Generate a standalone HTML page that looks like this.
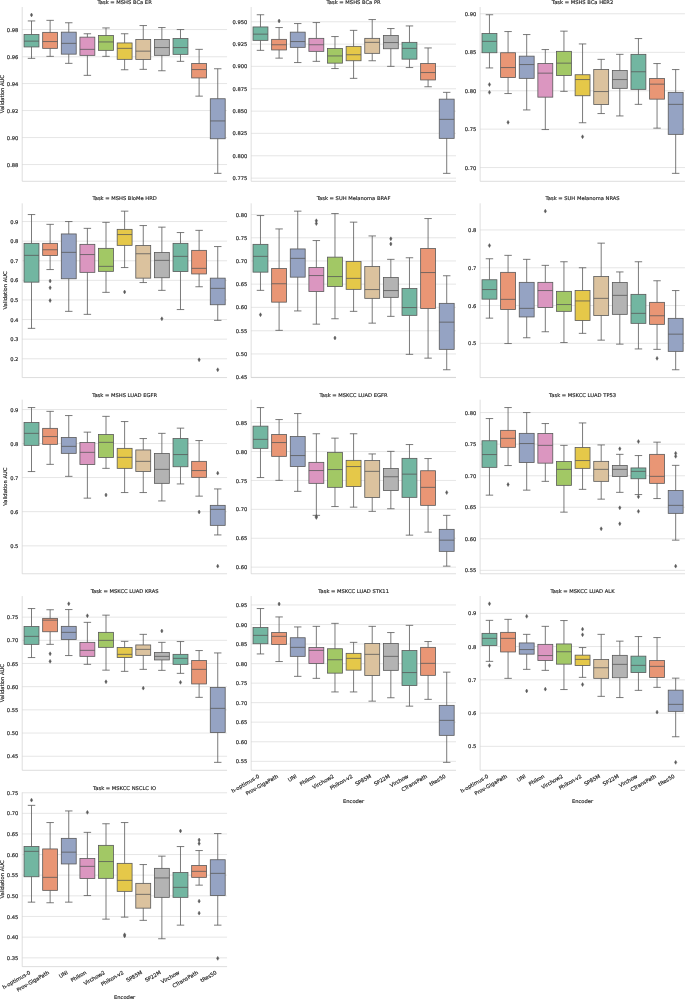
<!DOCTYPE html>
<html lang="en"><head><meta charset="utf-8"><title>Validation AUC by Encoder</title>
<style>html,body{margin:0;padding:0;background:#fff}body{width:685px;height:999px;overflow:hidden}svg{display:block}</style>
</head><body>
<svg width="685" height="999" viewBox="0 0 685 999" font-family="DejaVu Sans, Liberation Sans, sans-serif" font-size="5.2" fill="#262626" stroke="#262626" stroke-width="0.17">
<rect width="685" height="999" fill="#fff" stroke="none"/>
<g>
<path d="M22.2 29.55H227.05M22.2 56.75H227.05M22.2 83.55H227.05M22.2 110.55H227.05M22.2 137.55H227.05M22.2 164.55H227.05" stroke="#cccccc" stroke-width="0.5" fill="none"/>
<rect x="24.06" y="34.55" width="14.9" height="12.4" fill="#72b6a1" stroke="#595959" stroke-width="0.8"/>
<path d="M31.51 20.95V34.55M31.51 46.95V58.35M27.79 20.95H35.24M27.79 58.35H35.24M24.06 41.15H38.96" stroke="#595959" stroke-width="0.8" fill="none"/>
<path d="M31.51 13L32.66 14.95L31.51 16.9L30.36 14.95Z" fill="#595959" stroke="#595959" stroke-width="0.5"/>
<rect x="42.68" y="32.35" width="14.9" height="16" fill="#e99675" stroke="#595959" stroke-width="0.8"/>
<path d="M50.13 20.35V32.35M50.13 48.35V56.35M46.41 20.35H53.86M46.41 56.35H53.86M42.68 41.55H57.58" stroke="#595959" stroke-width="0.8" fill="none"/>
<rect x="61.31" y="32.15" width="14.9" height="22" fill="#95a3c3" stroke="#595959" stroke-width="0.8"/>
<path d="M68.76 22.75V32.15M68.76 54.15V63.35M65.03 22.75H72.48M65.03 63.35H72.48M61.31 43.35H76.21" stroke="#595959" stroke-width="0.8" fill="none"/>
<rect x="79.93" y="37.15" width="14.9" height="18.2" fill="#db96c0" stroke="#595959" stroke-width="0.8"/>
<path d="M87.38 33.75V37.15M87.38 55.35V75.35M83.66 33.75H91.1M83.66 75.35H91.1M79.93 49.35H94.83" stroke="#595959" stroke-width="0.8" fill="none"/>
<rect x="98.55" y="35.55" width="14.9" height="14.8" fill="#a2c865" stroke="#595959" stroke-width="0.8"/>
<path d="M106 27.95V35.55M106 50.35V56.35M102.28 27.95H109.73M102.28 56.35H109.73M98.55 41.95H113.45" stroke="#595959" stroke-width="0.8" fill="none"/>
<rect x="117.18" y="42.95" width="14.9" height="16.4" fill="#e5c849" stroke="#595959" stroke-width="0.8"/>
<path d="M124.62 33.75V42.95M124.62 59.35V69.75M120.9 33.75H128.35M120.9 69.75H128.35M117.18 48.35H132.07" stroke="#595959" stroke-width="0.8" fill="none"/>
<rect x="135.8" y="39.55" width="14.9" height="20" fill="#dbc29e" stroke="#595959" stroke-width="0.8"/>
<path d="M143.25 25.55V39.55M143.25 59.55V69.35M139.52 25.55H146.97M139.52 69.35H146.97M135.8 51.15H150.7" stroke="#595959" stroke-width="0.8" fill="none"/>
<rect x="154.42" y="39.55" width="14.9" height="15.8" fill="#b3b3b3" stroke="#595959" stroke-width="0.8"/>
<path d="M161.87 27.55V39.55M161.87 55.35V70.75M158.15 27.55H165.59M158.15 70.75H165.59M154.42 47.55H169.32" stroke="#595959" stroke-width="0.8" fill="none"/>
<rect x="173.04" y="38.55" width="14.9" height="15.8" fill="#72b6a1" stroke="#595959" stroke-width="0.8"/>
<path d="M180.49 29.55V38.55M180.49 54.35V61.35M176.77 29.55H184.22M176.77 61.35H184.22M173.04 47.55H187.94" stroke="#595959" stroke-width="0.8" fill="none"/>
<rect x="191.67" y="63.55" width="14.9" height="14.4" fill="#e99675" stroke="#595959" stroke-width="0.8"/>
<path d="M199.12 49.35V63.55M199.12 77.95V96.15M195.39 49.35H202.84M195.39 96.15H202.84M191.67 69.55H206.56" stroke="#595959" stroke-width="0.8" fill="none"/>
<rect x="210.29" y="98.75" width="14.9" height="40" fill="#95a3c3" stroke="#595959" stroke-width="0.8"/>
<path d="M217.74 68.75V98.75M217.74 138.75V173.35M214.01 68.75H221.46M214.01 173.35H221.46M210.29 120.95H225.19" stroke="#595959" stroke-width="0.8" fill="none"/>
<path d="M22.2 7V181.3H227.05" stroke="#cccccc" stroke-width="0.65" fill="none"/>
<text x="18.4" y="31.6" text-anchor="end">0.98</text>
<text x="18.4" y="58.8" text-anchor="end">0.96</text>
<text x="18.4" y="85.6" text-anchor="end">0.94</text>
<text x="18.4" y="112.6" text-anchor="end">0.92</text>
<text x="18.4" y="139.6" text-anchor="end">0.90</text>
<text x="18.4" y="166.6" text-anchor="end">0.88</text>
<text x="124.62" y="4.1" text-anchor="middle">Task = MSHS BCa ER</text>
<text transform="translate(3.62 94.15) rotate(-90)" text-anchor="middle">Validation AUC</text>
</g>
<g>
<path d="M251.17 21.75H456.02M251.17 44.15H456.02M251.17 66.35H456.02M251.17 88.75H456.02M251.17 111.15H456.02M251.17 133.35H456.02M251.17 155.75H456.02M251.17 178.15H456.02" stroke="#cccccc" stroke-width="0.5" fill="none"/>
<rect x="253.03" y="26.95" width="14.9" height="13.4" fill="#72b6a1" stroke="#595959" stroke-width="0.8"/>
<path d="M260.48 14.75V26.95M260.48 40.35V50.35M256.76 14.75H264.21M256.76 50.35H264.21M253.03 34.15H267.93" stroke="#595959" stroke-width="0.8" fill="none"/>
<rect x="271.65" y="39.35" width="14.9" height="10.6" fill="#e99675" stroke="#595959" stroke-width="0.8"/>
<path d="M279.1 27.55V39.35M279.1 49.95V58.15M275.38 27.55H282.83M275.38 58.15H282.83M271.65 44.75H286.55" stroke="#595959" stroke-width="0.8" fill="none"/>
<path d="M279.1 19L280.25 20.95L279.1 22.9L277.95 20.95Z" fill="#595959" stroke="#595959" stroke-width="0.5"/>
<rect x="290.28" y="32.15" width="14.9" height="15.2" fill="#95a3c3" stroke="#595959" stroke-width="0.8"/>
<path d="M297.73 23.55V32.15M297.73 47.35V62.55M294 23.55H301.45M294 62.55H301.45M290.28 41.55H305.18" stroke="#595959" stroke-width="0.8" fill="none"/>
<rect x="308.9" y="38.35" width="14.9" height="13" fill="#db96c0" stroke="#595959" stroke-width="0.8"/>
<path d="M316.35 22.55V38.35M316.35 51.35V61.35M312.62 22.55H320.07M312.62 61.35H320.07M308.9 44.75H323.8" stroke="#595959" stroke-width="0.8" fill="none"/>
<rect x="327.52" y="48.55" width="14.9" height="14.6" fill="#a2c865" stroke="#595959" stroke-width="0.8"/>
<path d="M334.97 36.55V48.55M334.97 63.15V68.55M331.25 36.55H338.7M331.25 68.55H338.7M327.52 55.95H342.42" stroke="#595959" stroke-width="0.8" fill="none"/>
<rect x="346.15" y="46.35" width="14.9" height="14.4" fill="#e5c849" stroke="#595959" stroke-width="0.8"/>
<path d="M353.59 30.35V46.35M353.59 60.75V78.35M349.87 30.35H357.32M349.87 78.35H357.32M346.15 54.75H361.04" stroke="#595959" stroke-width="0.8" fill="none"/>
<rect x="364.77" y="38.35" width="14.9" height="15" fill="#dbc29e" stroke="#595959" stroke-width="0.8"/>
<path d="M372.22 19.55V38.35M372.22 53.35V60.75M368.49 19.55H375.94M368.49 60.75H375.94M364.77 42.35H379.67" stroke="#595959" stroke-width="0.8" fill="none"/>
<rect x="383.39" y="35.55" width="14.9" height="13.2" fill="#b3b3b3" stroke="#595959" stroke-width="0.8"/>
<path d="M390.84 28.55V35.55M390.84 48.75V66.35M387.12 28.55H394.56M387.12 66.35H394.56M383.39 42.55H398.29" stroke="#595959" stroke-width="0.8" fill="none"/>
<rect x="402.01" y="42.35" width="14.9" height="16.8" fill="#72b6a1" stroke="#595959" stroke-width="0.8"/>
<path d="M409.46 25.95V42.35M409.46 59.15V67.55M405.74 25.95H413.19M405.74 67.55H413.19M402.01 48.35H416.91" stroke="#595959" stroke-width="0.8" fill="none"/>
<rect x="420.64" y="63.55" width="14.9" height="16.4" fill="#e99675" stroke="#595959" stroke-width="0.8"/>
<path d="M428.09 47.95V63.55M428.09 79.95V86.75M424.36 47.95H431.81M424.36 86.75H431.81M420.64 72.55H435.53" stroke="#595959" stroke-width="0.8" fill="none"/>
<rect x="439.26" y="99.15" width="14.9" height="39.2" fill="#95a3c3" stroke="#595959" stroke-width="0.8"/>
<path d="M446.71 92.35V99.15M446.71 138.35V173.35M442.98 92.35H450.43M442.98 173.35H450.43M439.26 119.35H454.16" stroke="#595959" stroke-width="0.8" fill="none"/>
<path d="M251.17 7V181.3H456.02" stroke="#cccccc" stroke-width="0.65" fill="none"/>
<text x="247.37" y="23.8" text-anchor="end">0.950</text>
<text x="247.37" y="46.2" text-anchor="end">0.925</text>
<text x="247.37" y="68.4" text-anchor="end">0.900</text>
<text x="247.37" y="90.8" text-anchor="end">0.875</text>
<text x="247.37" y="113.2" text-anchor="end">0.850</text>
<text x="247.37" y="135.4" text-anchor="end">0.825</text>
<text x="247.37" y="157.8" text-anchor="end">0.800</text>
<text x="247.37" y="180.2" text-anchor="end">0.775</text>
<text x="353.59" y="4.1" text-anchor="middle">Task = MSHS BCa PR</text>
</g>
<g>
<path d="M480.14 13.75H684.99M480.14 52.35H684.99M480.14 90.75H684.99M480.14 129.15H684.99M480.14 167.55H684.99" stroke="#cccccc" stroke-width="0.5" fill="none"/>
<rect x="482" y="33.55" width="14.9" height="19.2" fill="#72b6a1" stroke="#595959" stroke-width="0.8"/>
<path d="M489.45 14.75V33.55M489.45 52.75V67.95M485.73 14.75H493.18M485.73 67.95H493.18M482 41.35H496.9" stroke="#595959" stroke-width="0.8" fill="none"/>
<path d="M489.45 82.6L490.6 84.55L489.45 86.5L488.3 84.55Z" fill="#595959" stroke="#595959" stroke-width="0.5"/>
<path d="M489.45 90.4L490.6 92.35L489.45 94.3L488.3 92.35Z" fill="#595959" stroke="#595959" stroke-width="0.5"/>
<rect x="500.62" y="52.75" width="14.9" height="24.8" fill="#e99675" stroke="#595959" stroke-width="0.8"/>
<path d="M508.07 31.55V52.75M508.07 77.55V93.55M504.35 31.55H511.8M504.35 93.55H511.8M500.62 67.55H515.52" stroke="#595959" stroke-width="0.8" fill="none"/>
<path d="M508.07 120.4L509.22 122.35L508.07 124.3L506.92 122.35Z" fill="#595959" stroke="#595959" stroke-width="0.5"/>
<rect x="519.25" y="56.15" width="14.9" height="22.2" fill="#95a3c3" stroke="#595959" stroke-width="0.8"/>
<path d="M526.7 34.55V56.15M526.7 78.35V109.95M522.97 34.55H530.42M522.97 109.95H530.42M519.25 64.55H534.15" stroke="#595959" stroke-width="0.8" fill="none"/>
<rect x="537.87" y="63.55" width="14.9" height="33.6" fill="#db96c0" stroke="#595959" stroke-width="0.8"/>
<path d="M545.32 49.55V63.55M545.32 97.15V129.55M541.59 49.55H549.04M541.59 129.55H549.04M537.87 73.15H552.77" stroke="#595959" stroke-width="0.8" fill="none"/>
<rect x="556.49" y="51.35" width="14.9" height="24.2" fill="#a2c865" stroke="#595959" stroke-width="0.8"/>
<path d="M563.94 31.15V51.35M563.94 75.55V91.35M560.22 31.15H567.67M560.22 91.35H567.67M556.49 63.15H571.39" stroke="#595959" stroke-width="0.8" fill="none"/>
<rect x="575.12" y="74.75" width="14.9" height="21" fill="#e5c849" stroke="#595959" stroke-width="0.8"/>
<path d="M582.56 43.95V74.75M582.56 95.75V122.75M578.84 43.95H586.29M578.84 122.75H586.29M575.12 79.55H590.01" stroke="#595959" stroke-width="0.8" fill="none"/>
<path d="M582.56 134.8L583.71 136.75L582.56 138.7L581.41 136.75Z" fill="#595959" stroke="#595959" stroke-width="0.5"/>
<rect x="593.74" y="69.55" width="14.9" height="35" fill="#dbc29e" stroke="#595959" stroke-width="0.8"/>
<path d="M601.19 59.35V69.55M601.19 104.55V113.55M597.46 59.35H604.91M597.46 113.55H604.91M593.74 91.55H608.64" stroke="#595959" stroke-width="0.8" fill="none"/>
<rect x="612.36" y="70.55" width="14.9" height="17.8" fill="#b3b3b3" stroke="#595959" stroke-width="0.8"/>
<path d="M619.81 54.35V70.55M619.81 88.35V115.95M616.09 54.35H623.53M616.09 115.95H623.53M612.36 79.55H627.26" stroke="#595959" stroke-width="0.8" fill="none"/>
<rect x="630.98" y="54.35" width="14.9" height="35" fill="#72b6a1" stroke="#595959" stroke-width="0.8"/>
<path d="M638.43 38.55V54.35M638.43 89.35V104.35M634.71 38.55H642.16M634.71 104.35H642.16M630.98 71.75H645.88" stroke="#595959" stroke-width="0.8" fill="none"/>
<rect x="649.61" y="78.55" width="14.9" height="20.6" fill="#e99675" stroke="#595959" stroke-width="0.8"/>
<path d="M657.06 63.55V78.55M657.06 99.15V128.15M653.33 63.55H660.78M653.33 128.15H660.78M649.61 84.15H664.5" stroke="#595959" stroke-width="0.8" fill="none"/>
<rect x="668.23" y="92.35" width="14.9" height="42" fill="#95a3c3" stroke="#595959" stroke-width="0.8"/>
<path d="M675.68 69.55V92.35M675.68 134.35V173.35M671.95 69.55H679.4M671.95 173.35H679.4M668.23 104.35H683.13" stroke="#595959" stroke-width="0.8" fill="none"/>
<path d="M480.14 7V181.3H684.99" stroke="#cccccc" stroke-width="0.65" fill="none"/>
<text x="476.34" y="15.8" text-anchor="end">0.90</text>
<text x="476.34" y="54.4" text-anchor="end">0.85</text>
<text x="476.34" y="92.8" text-anchor="end">0.80</text>
<text x="476.34" y="131.2" text-anchor="end">0.75</text>
<text x="476.34" y="169.6" text-anchor="end">0.70</text>
<text x="582.57" y="4.1" text-anchor="middle">Task = MSHS BCa HER2</text>
</g>
<g>
<path d="M22.2 221.55H227.05M22.2 241.15H227.05M22.2 260.75H227.05M22.2 280.35H227.05M22.2 299.95H227.05M22.2 319.55H227.05M22.2 339.15H227.05M22.2 358.75H227.05" stroke="#cccccc" stroke-width="0.5" fill="none"/>
<rect x="24.06" y="243.35" width="14.9" height="38.8" fill="#72b6a1" stroke="#595959" stroke-width="0.8"/>
<path d="M31.51 214.55V243.35M31.51 282.15V328.35M27.79 214.55H35.24M27.79 328.35H35.24M24.06 255.35H38.96" stroke="#595959" stroke-width="0.8" fill="none"/>
<rect x="42.68" y="243.35" width="14.9" height="12.2" fill="#e99675" stroke="#595959" stroke-width="0.8"/>
<path d="M50.13 224.35V243.35M50.13 255.55V269.55M46.41 224.35H53.86M46.41 269.55H53.86M42.68 249.75H57.58" stroke="#595959" stroke-width="0.8" fill="none"/>
<path d="M50.13 279L51.28 280.95L50.13 282.9L48.98 280.95Z" fill="#595959" stroke="#595959" stroke-width="0.5"/>
<path d="M50.13 285.8L51.28 287.75L50.13 289.7L48.98 287.75Z" fill="#595959" stroke="#595959" stroke-width="0.5"/>
<path d="M50.13 298.6L51.28 300.55L50.13 302.5L48.98 300.55Z" fill="#595959" stroke="#595959" stroke-width="0.5"/>
<rect x="61.31" y="233.95" width="14.9" height="44.8" fill="#95a3c3" stroke="#595959" stroke-width="0.8"/>
<path d="M68.76 221.55V233.95M68.76 278.75V311.35M65.03 221.55H72.48M65.03 311.35H72.48M61.31 252.35H76.21" stroke="#595959" stroke-width="0.8" fill="none"/>
<rect x="79.93" y="244.35" width="14.9" height="28" fill="#db96c0" stroke="#595959" stroke-width="0.8"/>
<path d="M87.38 228.35V244.35M87.38 272.35V314.35M83.66 228.35H91.1M83.66 314.35H91.1M79.93 254.55H94.83" stroke="#595959" stroke-width="0.8" fill="none"/>
<rect x="98.55" y="248.35" width="14.9" height="23" fill="#a2c865" stroke="#595959" stroke-width="0.8"/>
<path d="M106 222.35V248.35M106 271.35V292.35M102.28 222.35H109.73M102.28 292.35H109.73M98.55 266.35H113.45" stroke="#595959" stroke-width="0.8" fill="none"/>
<rect x="117.18" y="229.35" width="14.9" height="16" fill="#e5c849" stroke="#595959" stroke-width="0.8"/>
<path d="M124.62 211.15V229.35M124.62 245.35V267.55M120.9 211.15H128.35M120.9 267.55H128.35M117.18 234.55H132.07" stroke="#595959" stroke-width="0.8" fill="none"/>
<path d="M124.62 290L125.78 291.95L124.62 293.9L123.47 291.95Z" fill="#595959" stroke="#595959" stroke-width="0.5"/>
<rect x="135.8" y="245.55" width="14.9" height="32.6" fill="#dbc29e" stroke="#595959" stroke-width="0.8"/>
<path d="M143.25 225.55V245.55M143.25 278.15V282.55M139.52 225.55H146.97M139.52 282.55H146.97M135.8 253.75H150.7" stroke="#595959" stroke-width="0.8" fill="none"/>
<rect x="154.42" y="252.55" width="14.9" height="25.2" fill="#b3b3b3" stroke="#595959" stroke-width="0.8"/>
<path d="M161.87 227.15V252.55M161.87 277.75V290.35M158.15 227.15H165.59M158.15 290.35H165.59M154.42 260.35H169.32" stroke="#595959" stroke-width="0.8" fill="none"/>
<path d="M161.87 316.8L163.02 318.75L161.87 320.7L160.72 318.75Z" fill="#595959" stroke="#595959" stroke-width="0.5"/>
<rect x="173.04" y="243.35" width="14.9" height="28.2" fill="#72b6a1" stroke="#595959" stroke-width="0.8"/>
<path d="M180.49 232.55V243.35M180.49 271.55V309.55M176.77 232.55H184.22M176.77 309.55H184.22M173.04 256.35H187.94" stroke="#595959" stroke-width="0.8" fill="none"/>
<rect x="191.67" y="250.35" width="14.9" height="23.6" fill="#e99675" stroke="#595959" stroke-width="0.8"/>
<path d="M199.12 230.35V250.35M199.12 273.95V286.75M195.39 230.35H202.84M195.39 286.75H202.84M191.67 268.35H206.56" stroke="#595959" stroke-width="0.8" fill="none"/>
<path d="M199.12 357.8L200.27 359.75L199.12 361.7L197.97 359.75Z" fill="#595959" stroke="#595959" stroke-width="0.5"/>
<rect x="210.29" y="278.15" width="14.9" height="26.6" fill="#95a3c3" stroke="#595959" stroke-width="0.8"/>
<path d="M217.74 246.55V278.15M217.74 304.75V320.35M214.01 246.55H221.46M214.01 320.35H221.46M210.29 288.35H225.19" stroke="#595959" stroke-width="0.8" fill="none"/>
<path d="M217.74 367.8L218.89 369.75L217.74 371.7L216.59 369.75Z" fill="#595959" stroke="#595959" stroke-width="0.5"/>
<path d="M22.2 203.35V377.55H227.05" stroke="#cccccc" stroke-width="0.65" fill="none"/>
<text x="18.4" y="223.6" text-anchor="end">0.9</text>
<text x="18.4" y="243.2" text-anchor="end">0.8</text>
<text x="18.4" y="262.8" text-anchor="end">0.7</text>
<text x="18.4" y="282.4" text-anchor="end">0.6</text>
<text x="18.4" y="302" text-anchor="end">0.5</text>
<text x="18.4" y="321.6" text-anchor="end">0.4</text>
<text x="18.4" y="341.2" text-anchor="end">0.3</text>
<text x="18.4" y="360.8" text-anchor="end">0.2</text>
<text x="124.62" y="200.45" text-anchor="middle">Task = MSHS BioMe HRD</text>
<text transform="translate(6.93 290.45) rotate(-90)" text-anchor="middle">Validation AUC</text>
</g>
<g>
<path d="M251.17 214.55H456.02M251.17 237.75H456.02M251.17 260.95H456.02M251.17 284.15H456.02M251.17 307.35H456.02M251.17 330.75H456.02M251.17 353.95H456.02M251.17 377.35H456.02" stroke="#cccccc" stroke-width="0.5" fill="none"/>
<rect x="253.03" y="244.35" width="14.9" height="27.8" fill="#72b6a1" stroke="#595959" stroke-width="0.8"/>
<path d="M260.48 215.55V244.35M260.48 272.15V290.35M256.76 215.55H264.21M256.76 290.35H264.21M253.03 256.35H267.93" stroke="#595959" stroke-width="0.8" fill="none"/>
<path d="M260.48 312.8L261.63 314.75L260.48 316.7L259.33 314.75Z" fill="#595959" stroke="#595959" stroke-width="0.5"/>
<rect x="271.65" y="268.55" width="14.9" height="33.6" fill="#e99675" stroke="#595959" stroke-width="0.8"/>
<path d="M279.1 228.95V268.55M279.1 302.15V330.35M275.38 228.95H282.83M275.38 330.35H282.83M271.65 283.75H286.55" stroke="#595959" stroke-width="0.8" fill="none"/>
<rect x="290.28" y="248.95" width="14.9" height="28.2" fill="#95a3c3" stroke="#595959" stroke-width="0.8"/>
<path d="M297.73 211.15V248.95M297.73 277.15V310.95M294 211.15H301.45M294 310.95H301.45M290.28 258.35H305.18" stroke="#595959" stroke-width="0.8" fill="none"/>
<rect x="308.9" y="267.55" width="14.9" height="24" fill="#db96c0" stroke="#595959" stroke-width="0.8"/>
<path d="M316.35 240.55V267.55M316.35 291.55V324.15M312.62 240.55H320.07M312.62 324.15H320.07M308.9 275.55H323.8" stroke="#595959" stroke-width="0.8" fill="none"/>
<path d="M316.35 218.8L317.5 220.75L316.35 222.7L315.2 220.75Z" fill="#595959" stroke="#595959" stroke-width="0.5"/>
<path d="M316.35 221.6L317.5 223.55L316.35 225.5L315.2 223.55Z" fill="#595959" stroke="#595959" stroke-width="0.5"/>
<rect x="327.52" y="257.15" width="14.9" height="29.4" fill="#a2c865" stroke="#595959" stroke-width="0.8"/>
<path d="M334.97 213.55V257.15M334.97 286.55V318.75M331.25 213.55H338.7M331.25 318.75H338.7M327.52 276.55H342.42" stroke="#595959" stroke-width="0.8" fill="none"/>
<path d="M334.97 336L336.12 337.95L334.97 339.9L333.82 337.95Z" fill="#595959" stroke="#595959" stroke-width="0.5"/>
<rect x="346.15" y="261.55" width="14.9" height="27.8" fill="#e5c849" stroke="#595959" stroke-width="0.8"/>
<path d="M353.59 222.15V261.55M353.59 289.35V311.35M349.87 222.15H357.32M349.87 311.35H357.32M346.15 278.35H361.04" stroke="#595959" stroke-width="0.8" fill="none"/>
<rect x="364.77" y="266.55" width="14.9" height="31.8" fill="#dbc29e" stroke="#595959" stroke-width="0.8"/>
<path d="M372.22 235.95V266.55M372.22 298.35V323.15M368.49 235.95H375.94M368.49 323.15H375.94M364.77 289.55H379.67" stroke="#595959" stroke-width="0.8" fill="none"/>
<rect x="383.39" y="277.55" width="14.9" height="19.8" fill="#b3b3b3" stroke="#595959" stroke-width="0.8"/>
<path d="M390.84 259.35V277.55M390.84 297.35V316.35M387.12 259.35H394.56M387.12 316.35H394.56M383.39 290.55H398.29" stroke="#595959" stroke-width="0.8" fill="none"/>
<path d="M390.84 236.8L391.99 238.75L390.84 240.7L389.69 238.75Z" fill="#595959" stroke="#595959" stroke-width="0.5"/>
<path d="M390.84 242L391.99 243.95L390.84 245.9L389.69 243.95Z" fill="#595959" stroke="#595959" stroke-width="0.5"/>
<rect x="402.01" y="288.55" width="14.9" height="26.8" fill="#72b6a1" stroke="#595959" stroke-width="0.8"/>
<path d="M409.46 257.75V288.55M409.46 315.35V354.35M405.74 257.75H413.19M405.74 354.35H413.19M402.01 307.55H416.91" stroke="#595959" stroke-width="0.8" fill="none"/>
<rect x="420.64" y="248.55" width="14.9" height="60" fill="#e99675" stroke="#595959" stroke-width="0.8"/>
<path d="M428.09 218.55V248.55M428.09 308.55V358.15M424.36 218.55H431.81M424.36 358.15H431.81M420.64 272.55H435.53" stroke="#595959" stroke-width="0.8" fill="none"/>
<rect x="439.26" y="303.35" width="14.9" height="46" fill="#95a3c3" stroke="#595959" stroke-width="0.8"/>
<path d="M446.71 275.75V303.35M446.71 349.35V369.75M442.98 275.75H450.43M442.98 369.75H450.43M439.26 322.15H454.16" stroke="#595959" stroke-width="0.8" fill="none"/>
<path d="M251.17 203.35V377.55H456.02" stroke="#cccccc" stroke-width="0.65" fill="none"/>
<text x="247.37" y="216.6" text-anchor="end">0.80</text>
<text x="247.37" y="239.8" text-anchor="end">0.75</text>
<text x="247.37" y="263" text-anchor="end">0.70</text>
<text x="247.37" y="286.2" text-anchor="end">0.65</text>
<text x="247.37" y="309.4" text-anchor="end">0.60</text>
<text x="247.37" y="332.8" text-anchor="end">0.55</text>
<text x="247.37" y="356" text-anchor="end">0.50</text>
<text x="247.37" y="379.4" text-anchor="end">0.45</text>
<text x="353.59" y="200.45" text-anchor="middle">Task = SUH Melanoma BRAF</text>
</g>
<g>
<path d="M480.14 229.95H684.99M480.14 267.75H684.99M480.14 305.55H684.99M480.14 343.35H684.99" stroke="#cccccc" stroke-width="0.5" fill="none"/>
<rect x="482" y="279.75" width="14.9" height="19.4" fill="#72b6a1" stroke="#595959" stroke-width="0.8"/>
<path d="M489.45 258.75V279.75M489.45 299.15V318.15M485.73 258.75H493.18M485.73 318.15H493.18M482 289.55H496.9" stroke="#595959" stroke-width="0.8" fill="none"/>
<path d="M489.45 243.6L490.6 245.55L489.45 247.5L488.3 245.55Z" fill="#595959" stroke="#595959" stroke-width="0.5"/>
<rect x="500.62" y="272.35" width="14.9" height="37.2" fill="#e99675" stroke="#595959" stroke-width="0.8"/>
<path d="M508.07 255.35V272.35M508.07 309.55V343.55M504.35 255.35H511.8M504.35 343.55H511.8M500.62 299.35H515.52" stroke="#595959" stroke-width="0.8" fill="none"/>
<rect x="519.25" y="282.35" width="14.9" height="34.6" fill="#95a3c3" stroke="#595959" stroke-width="0.8"/>
<path d="M526.7 259.35V282.35M526.7 316.95V337.75M522.97 259.35H530.42M522.97 337.75H530.42M519.25 308.35H534.15" stroke="#595959" stroke-width="0.8" fill="none"/>
<rect x="537.87" y="282.35" width="14.9" height="25.2" fill="#db96c0" stroke="#595959" stroke-width="0.8"/>
<path d="M545.32 265.35V282.35M545.32 307.55V331.75M541.59 265.35H549.04M541.59 331.75H549.04M537.87 290.55H552.77" stroke="#595959" stroke-width="0.8" fill="none"/>
<path d="M545.32 209.2L546.47 211.15L545.32 213.1L544.17 211.15Z" fill="#595959" stroke="#595959" stroke-width="0.5"/>
<rect x="556.49" y="291.35" width="14.9" height="20" fill="#a2c865" stroke="#595959" stroke-width="0.8"/>
<path d="M563.94 261.75V291.35M563.94 311.35V342.55M560.22 261.75H567.67M560.22 342.55H567.67M556.49 304.55H571.39" stroke="#595959" stroke-width="0.8" fill="none"/>
<rect x="575.12" y="290.55" width="14.9" height="30" fill="#e5c849" stroke="#595959" stroke-width="0.8"/>
<path d="M582.56 267.75V290.55M582.56 320.55V333.35M578.84 267.75H586.29M578.84 333.35H586.29M575.12 300.95H590.01" stroke="#595959" stroke-width="0.8" fill="none"/>
<rect x="593.74" y="276.55" width="14.9" height="39" fill="#dbc29e" stroke="#595959" stroke-width="0.8"/>
<path d="M601.19 243.15V276.55M601.19 315.55V340.15M597.46 243.15H604.91M597.46 340.15H604.91M593.74 298.35H608.64" stroke="#595959" stroke-width="0.8" fill="none"/>
<rect x="612.36" y="282.55" width="14.9" height="31.8" fill="#b3b3b3" stroke="#595959" stroke-width="0.8"/>
<path d="M619.81 271.95V282.55M619.81 314.35V344.15M616.09 271.95H623.53M616.09 344.15H623.53M612.36 295.35H627.26" stroke="#595959" stroke-width="0.8" fill="none"/>
<rect x="630.98" y="294.35" width="14.9" height="29" fill="#72b6a1" stroke="#595959" stroke-width="0.8"/>
<path d="M638.43 261.75V294.35M638.43 323.35V348.95M634.71 261.75H642.16M634.71 348.95H642.16M630.98 313.35H645.88" stroke="#595959" stroke-width="0.8" fill="none"/>
<rect x="649.61" y="302.35" width="14.9" height="22" fill="#e99675" stroke="#595959" stroke-width="0.8"/>
<path d="M657.06 280.75V302.35M657.06 324.35V349.35M653.33 280.75H660.78M653.33 349.35H660.78M649.61 315.75H664.5" stroke="#595959" stroke-width="0.8" fill="none"/>
<path d="M657.06 356.4L658.21 358.35L657.06 360.3L655.91 358.35Z" fill="#595959" stroke="#595959" stroke-width="0.5"/>
<rect x="668.23" y="318.35" width="14.9" height="33" fill="#95a3c3" stroke="#595959" stroke-width="0.8"/>
<path d="M675.68 290.55V318.35M675.68 351.35V369.75M671.95 290.55H679.4M671.95 369.75H679.4M668.23 334.15H683.13" stroke="#595959" stroke-width="0.8" fill="none"/>
<path d="M480.14 203.35V377.55H684.99" stroke="#cccccc" stroke-width="0.65" fill="none"/>
<text x="476.34" y="232" text-anchor="end">0.8</text>
<text x="476.34" y="269.8" text-anchor="end">0.7</text>
<text x="476.34" y="307.6" text-anchor="end">0.6</text>
<text x="476.34" y="345.4" text-anchor="end">0.5</text>
<text x="582.57" y="200.45" text-anchor="middle">Task = SUH Melanoma NRAS</text>
</g>
<g>
<path d="M22.2 409.55H227.05M22.2 443.55H227.05M22.2 477.55H227.05M22.2 511.65H227.05M22.2 545.85H227.05" stroke="#cccccc" stroke-width="0.5" fill="none"/>
<rect x="24.06" y="422.55" width="14.9" height="22.8" fill="#72b6a1" stroke="#595959" stroke-width="0.8"/>
<path d="M31.51 407.55V422.55M31.51 445.35V471.55M27.79 407.55H35.24M27.79 471.55H35.24M24.06 433.35H38.96" stroke="#595959" stroke-width="0.8" fill="none"/>
<rect x="42.68" y="428.35" width="14.9" height="16" fill="#e99675" stroke="#595959" stroke-width="0.8"/>
<path d="M50.13 411.35V428.35M50.13 444.35V464.35M46.41 411.35H53.86M46.41 464.35H53.86M42.68 436.55H57.58" stroke="#595959" stroke-width="0.8" fill="none"/>
<rect x="61.31" y="437.55" width="14.9" height="15.8" fill="#95a3c3" stroke="#595959" stroke-width="0.8"/>
<path d="M68.76 415.55V437.55M68.76 453.35V476.35M65.03 415.55H72.48M65.03 476.35H72.48M61.31 446.35H76.21" stroke="#595959" stroke-width="0.8" fill="none"/>
<rect x="79.93" y="442.55" width="14.9" height="22" fill="#db96c0" stroke="#595959" stroke-width="0.8"/>
<path d="M87.38 432.15V442.55M87.38 464.55V498.15M83.66 432.15H91.1M83.66 498.15H91.1M79.93 452.35H94.83" stroke="#595959" stroke-width="0.8" fill="none"/>
<rect x="98.55" y="434.55" width="14.9" height="23" fill="#a2c865" stroke="#595959" stroke-width="0.8"/>
<path d="M106 416.35V434.55M106 457.55V468.35M102.28 416.35H109.73M102.28 468.35H109.73M98.55 442.35H113.45" stroke="#595959" stroke-width="0.8" fill="none"/>
<path d="M106 493L107.15 494.95L106 496.9L104.85 494.95Z" fill="#595959" stroke="#595959" stroke-width="0.5"/>
<rect x="117.18" y="448.35" width="14.9" height="20" fill="#e5c849" stroke="#595959" stroke-width="0.8"/>
<path d="M124.62 421.55V448.35M124.62 468.35V492.55M120.9 421.55H128.35M120.9 492.55H128.35M117.18 457.35H132.07" stroke="#595959" stroke-width="0.8" fill="none"/>
<rect x="135.8" y="449.95" width="14.9" height="21.6" fill="#dbc29e" stroke="#595959" stroke-width="0.8"/>
<path d="M143.25 438.55V449.95M143.25 471.55V492.55M139.52 438.55H146.97M139.52 492.55H146.97M135.8 461.35H150.7" stroke="#595959" stroke-width="0.8" fill="none"/>
<rect x="154.42" y="453.55" width="14.9" height="29.8" fill="#b3b3b3" stroke="#595959" stroke-width="0.8"/>
<path d="M161.87 433.35V453.55M161.87 483.35V500.95M158.15 433.35H165.59M158.15 500.95H165.59M154.42 469.35H169.32" stroke="#595959" stroke-width="0.8" fill="none"/>
<rect x="173.04" y="438.55" width="14.9" height="28.2" fill="#72b6a1" stroke="#595959" stroke-width="0.8"/>
<path d="M180.49 428.15V438.55M180.49 466.75V483.95M176.77 428.15H184.22M176.77 483.95H184.22M173.04 454.55H187.94" stroke="#595959" stroke-width="0.8" fill="none"/>
<rect x="191.67" y="461.35" width="14.9" height="16" fill="#e99675" stroke="#595959" stroke-width="0.8"/>
<path d="M199.12 440.55V461.35M199.12 477.35V496.15M195.39 440.55H202.84M195.39 496.15H202.84M191.67 470.55H206.56" stroke="#595959" stroke-width="0.8" fill="none"/>
<path d="M199.12 510L200.27 511.95L199.12 513.9L197.97 511.95Z" fill="#595959" stroke="#595959" stroke-width="0.5"/>
<rect x="210.29" y="505.35" width="14.9" height="20" fill="#95a3c3" stroke="#595959" stroke-width="0.8"/>
<path d="M217.74 488.95V505.35M217.74 525.35V534.95M214.01 488.95H221.46M214.01 534.95H221.46M210.29 509.35H225.19" stroke="#595959" stroke-width="0.8" fill="none"/>
<path d="M217.74 471.2L218.89 473.15L217.74 475.1L216.59 473.15Z" fill="#595959" stroke="#595959" stroke-width="0.5"/>
<path d="M217.74 564.2L218.89 566.15L217.74 568.1L216.59 566.15Z" fill="#595959" stroke="#595959" stroke-width="0.5"/>
<path d="M22.2 399.7V573.75H227.05" stroke="#cccccc" stroke-width="0.65" fill="none"/>
<text x="18.4" y="411.6" text-anchor="end">0.9</text>
<text x="18.4" y="445.6" text-anchor="end">0.8</text>
<text x="18.4" y="479.6" text-anchor="end">0.7</text>
<text x="18.4" y="513.7" text-anchor="end">0.6</text>
<text x="18.4" y="547.9" text-anchor="end">0.5</text>
<text x="124.62" y="396.8" text-anchor="middle">Task = MSHS LUAD EGFR</text>
<text transform="translate(6.93 486.73) rotate(-90)" text-anchor="middle">Validation AUC</text>
</g>
<g>
<path d="M251.17 422.55H456.02M251.17 451.55H456.02M251.17 480.45H456.02M251.17 509.35H456.02M251.17 538.25H456.02M251.17 567.15H456.02" stroke="#cccccc" stroke-width="0.5" fill="none"/>
<rect x="253.03" y="426.15" width="14.9" height="22.2" fill="#72b6a1" stroke="#595959" stroke-width="0.8"/>
<path d="M260.48 407.55V426.15M260.48 448.35V477.55M256.76 407.55H264.21M256.76 477.55H264.21M253.03 439.35H267.93" stroke="#595959" stroke-width="0.8" fill="none"/>
<rect x="271.65" y="434.55" width="14.9" height="21.8" fill="#e99675" stroke="#595959" stroke-width="0.8"/>
<path d="M279.1 419.55V434.55M279.1 456.35V480.35M275.38 419.55H282.83M275.38 480.35H282.83M271.65 442.55H286.55" stroke="#595959" stroke-width="0.8" fill="none"/>
<rect x="290.28" y="436.55" width="14.9" height="30" fill="#95a3c3" stroke="#595959" stroke-width="0.8"/>
<path d="M297.73 413.55V436.55M297.73 466.55V491.35M294 413.55H301.45M294 491.35H301.45M290.28 455.55H305.18" stroke="#595959" stroke-width="0.8" fill="none"/>
<rect x="308.9" y="462.35" width="14.9" height="21" fill="#db96c0" stroke="#595959" stroke-width="0.8"/>
<path d="M316.35 433.75V462.35M316.35 483.35V515.35M312.62 433.75H320.07M312.62 515.35H320.07M308.9 470.55H323.8" stroke="#595959" stroke-width="0.8" fill="none"/>
<path d="M316.35 514.4L317.5 516.35L316.35 518.3L315.2 516.35Z" fill="#595959" stroke="#595959" stroke-width="0.5"/>
<path d="M316.35 515.5L317.5 517.45L316.35 519.4L315.2 517.45Z" fill="#595959" stroke="#595959" stroke-width="0.5"/>
<rect x="327.52" y="452.35" width="14.9" height="35" fill="#a2c865" stroke="#595959" stroke-width="0.8"/>
<path d="M334.97 438.15V452.35M334.97 487.35V506.55M331.25 438.15H338.7M331.25 506.55H338.7M327.52 469.55H342.42" stroke="#595959" stroke-width="0.8" fill="none"/>
<rect x="346.15" y="460.35" width="14.9" height="26.2" fill="#e5c849" stroke="#595959" stroke-width="0.8"/>
<path d="M353.59 433.75V460.35M353.59 486.55V507.15M349.87 433.75H357.32M349.87 507.15H357.32M346.15 466.55H361.04" stroke="#595959" stroke-width="0.8" fill="none"/>
<rect x="364.77" y="460.55" width="14.9" height="37" fill="#dbc29e" stroke="#595959" stroke-width="0.8"/>
<path d="M372.22 453.95V460.55M372.22 497.55V511.35M368.49 453.95H375.94M368.49 511.35H375.94M364.77 471.35H379.67" stroke="#595959" stroke-width="0.8" fill="none"/>
<rect x="383.39" y="468.55" width="14.9" height="22" fill="#b3b3b3" stroke="#595959" stroke-width="0.8"/>
<path d="M390.84 451.35V468.55M390.84 490.55V508.75M387.12 451.35H394.56M387.12 508.75H394.56M383.39 476.75H398.29" stroke="#595959" stroke-width="0.8" fill="none"/>
<rect x="402.01" y="458.35" width="14.9" height="39" fill="#72b6a1" stroke="#595959" stroke-width="0.8"/>
<path d="M409.46 444.55V458.35M409.46 497.35V535.15M405.74 444.55H413.19M405.74 535.15H413.19M402.01 474.15H416.91" stroke="#595959" stroke-width="0.8" fill="none"/>
<rect x="420.64" y="470.75" width="14.9" height="34.6" fill="#e99675" stroke="#595959" stroke-width="0.8"/>
<path d="M428.09 458.55V470.75M428.09 505.35V532.15M424.36 458.55H431.81M424.36 532.15H431.81M420.64 487.35H435.53" stroke="#595959" stroke-width="0.8" fill="none"/>
<rect x="439.26" y="529.35" width="14.9" height="22" fill="#95a3c3" stroke="#595959" stroke-width="0.8"/>
<path d="M446.71 515.35V529.35M446.71 551.35V566.15M442.98 515.35H450.43M442.98 566.15H450.43M439.26 540.15H454.16" stroke="#595959" stroke-width="0.8" fill="none"/>
<path d="M446.71 490.6L447.86 492.55L446.71 494.5L445.56 492.55Z" fill="#595959" stroke="#595959" stroke-width="0.5"/>
<path d="M251.17 399.7V573.75H456.02" stroke="#cccccc" stroke-width="0.65" fill="none"/>
<text x="247.37" y="424.6" text-anchor="end">0.85</text>
<text x="247.37" y="453.6" text-anchor="end">0.80</text>
<text x="247.37" y="482.5" text-anchor="end">0.75</text>
<text x="247.37" y="511.4" text-anchor="end">0.70</text>
<text x="247.37" y="540.3" text-anchor="end">0.65</text>
<text x="247.37" y="569.2" text-anchor="end">0.60</text>
<text x="353.59" y="396.8" text-anchor="middle">Task = MSKCC LUAD EGFR</text>
</g>
<g>
<path d="M480.14 412.55H684.99M480.14 444.15H684.99M480.14 475.75H684.99M480.14 507.25H684.99M480.14 538.75H684.99M480.14 570.35H684.99" stroke="#cccccc" stroke-width="0.5" fill="none"/>
<rect x="482" y="440.75" width="14.9" height="26.6" fill="#72b6a1" stroke="#595959" stroke-width="0.8"/>
<path d="M489.45 418.55V440.75M489.45 467.35V495.15M485.73 418.55H493.18M485.73 495.15H493.18M482 454.55H496.9" stroke="#595959" stroke-width="0.8" fill="none"/>
<rect x="500.62" y="430.35" width="14.9" height="17" fill="#e99675" stroke="#595959" stroke-width="0.8"/>
<path d="M508.07 407.55V430.35M508.07 447.35V465.55M504.35 407.55H511.8M504.35 465.55H511.8M500.62 438.35H515.52" stroke="#595959" stroke-width="0.8" fill="none"/>
<path d="M508.07 482.6L509.22 484.55L508.07 486.5L506.92 484.55Z" fill="#595959" stroke="#595959" stroke-width="0.5"/>
<rect x="519.25" y="433.35" width="14.9" height="29.2" fill="#95a3c3" stroke="#595959" stroke-width="0.8"/>
<path d="M526.7 412.55V433.35M526.7 462.55V490.15M522.97 412.55H530.42M522.97 490.15H530.42M519.25 443.55H534.15" stroke="#595959" stroke-width="0.8" fill="none"/>
<rect x="537.87" y="433.55" width="14.9" height="29.6" fill="#db96c0" stroke="#595959" stroke-width="0.8"/>
<path d="M545.32 423.55V433.55M545.32 463.15V481.35M541.59 423.55H549.04M541.59 481.35H549.04M537.87 445.35H552.77" stroke="#595959" stroke-width="0.8" fill="none"/>
<rect x="556.49" y="461.55" width="14.9" height="23.8" fill="#a2c865" stroke="#595959" stroke-width="0.8"/>
<path d="M563.94 445.35V461.55M563.94 485.35V512.15M560.22 445.35H567.67M560.22 512.15H567.67M556.49 469.35H571.39" stroke="#595959" stroke-width="0.8" fill="none"/>
<rect x="575.12" y="447.55" width="14.9" height="20.8" fill="#e5c849" stroke="#595959" stroke-width="0.8"/>
<path d="M582.56 422.95V447.55M582.56 468.35V489.35M578.84 422.95H586.29M578.84 489.35H586.29M575.12 460.55H590.01" stroke="#595959" stroke-width="0.8" fill="none"/>
<rect x="593.74" y="461.35" width="14.9" height="20" fill="#dbc29e" stroke="#595959" stroke-width="0.8"/>
<path d="M601.19 444.95V461.35M601.19 481.35V499.15M597.46 444.95H604.91M597.46 499.15H604.91M593.74 469.35H608.64" stroke="#595959" stroke-width="0.8" fill="none"/>
<path d="M601.19 526.8L602.34 528.75L601.19 530.7L600.04 528.75Z" fill="#595959" stroke="#595959" stroke-width="0.5"/>
<rect x="612.36" y="465.55" width="14.9" height="11" fill="#b3b3b3" stroke="#595959" stroke-width="0.8"/>
<path d="M619.81 454.35V465.55M619.81 476.55V492.35M616.09 454.35H623.53M616.09 492.35H623.53M612.36 469.35H627.26" stroke="#595959" stroke-width="0.8" fill="none"/>
<path d="M619.81 446.8L620.96 448.75L619.81 450.7L618.66 448.75Z" fill="#595959" stroke="#595959" stroke-width="0.5"/>
<path d="M619.81 505.8L620.96 507.75L619.81 509.7L618.66 507.75Z" fill="#595959" stroke="#595959" stroke-width="0.5"/>
<path d="M619.81 521.8L620.96 523.75L619.81 525.7L618.66 523.75Z" fill="#595959" stroke="#595959" stroke-width="0.5"/>
<rect x="630.98" y="467.95" width="14.9" height="10.8" fill="#72b6a1" stroke="#595959" stroke-width="0.8"/>
<path d="M638.43 455.55V467.95M638.43 478.75V494.55M634.71 455.55H642.16M634.71 494.55H642.16M630.98 471.35H645.88" stroke="#595959" stroke-width="0.8" fill="none"/>
<path d="M638.43 439.6L639.58 441.55L638.43 443.5L637.28 441.55Z" fill="#595959" stroke="#595959" stroke-width="0.5"/>
<path d="M638.43 494.8L639.58 496.75L638.43 498.7L637.28 496.75Z" fill="#595959" stroke="#595959" stroke-width="0.5"/>
<path d="M638.43 509.4L639.58 511.35L638.43 513.3L637.28 511.35Z" fill="#595959" stroke="#595959" stroke-width="0.5"/>
<rect x="649.61" y="454.35" width="14.9" height="29" fill="#e99675" stroke="#595959" stroke-width="0.8"/>
<path d="M657.06 442.15V454.35M657.06 483.35V498.55M653.33 442.15H660.78M653.33 498.55H660.78M649.61 476.35H664.5" stroke="#595959" stroke-width="0.8" fill="none"/>
<rect x="668.23" y="490.55" width="14.9" height="22.8" fill="#95a3c3" stroke="#595959" stroke-width="0.8"/>
<path d="M675.68 465.35V490.55M675.68 513.35V540.15M671.95 465.35H679.4M671.95 540.15H679.4M668.23 505.35H683.13" stroke="#595959" stroke-width="0.8" fill="none"/>
<path d="M675.68 451.4L676.83 453.35L675.68 455.3L674.53 453.35Z" fill="#595959" stroke="#595959" stroke-width="0.5"/>
<path d="M675.68 454.4L676.83 456.35L675.68 458.3L674.53 456.35Z" fill="#595959" stroke="#595959" stroke-width="0.5"/>
<path d="M675.68 564.2L676.83 566.15L675.68 568.1L674.53 566.15Z" fill="#595959" stroke="#595959" stroke-width="0.5"/>
<path d="M480.14 399.7V573.75H684.99" stroke="#cccccc" stroke-width="0.65" fill="none"/>
<text x="476.34" y="414.6" text-anchor="end">0.80</text>
<text x="476.34" y="446.2" text-anchor="end">0.75</text>
<text x="476.34" y="477.8" text-anchor="end">0.70</text>
<text x="476.34" y="509.3" text-anchor="end">0.65</text>
<text x="476.34" y="540.8" text-anchor="end">0.60</text>
<text x="476.34" y="572.4" text-anchor="end">0.55</text>
<text x="582.57" y="396.8" text-anchor="middle">Task = MSKCC LUAD TP53</text>
</g>
<g>
<path d="M22.2 617.15H227.05M22.2 640.35H227.05M22.2 663.45H227.05M22.2 686.65H227.05M22.2 709.85H227.05M22.2 733.05H227.05M22.2 756.25H227.05" stroke="#cccccc" stroke-width="0.5" fill="none"/>
<rect x="24.06" y="626.55" width="14.9" height="17.8" fill="#72b6a1" stroke="#595959" stroke-width="0.8"/>
<path d="M31.51 608.55V626.55M31.51 644.35V657.55M27.79 608.55H35.24M27.79 657.55H35.24M24.06 636.35H38.96" stroke="#595959" stroke-width="0.8" fill="none"/>
<rect x="42.68" y="618.35" width="14.9" height="13.4" fill="#e99675" stroke="#595959" stroke-width="0.8"/>
<path d="M50.13 609.75V618.35M50.13 631.75V644.35M46.41 609.75H53.86M46.41 644.35H53.86M42.68 620.15H57.58" stroke="#595959" stroke-width="0.8" fill="none"/>
<path d="M50.13 651.8L51.28 653.75L50.13 655.7L48.98 653.75Z" fill="#595959" stroke="#595959" stroke-width="0.5"/>
<path d="M50.13 659.4L51.28 661.35L50.13 663.3L48.98 661.35Z" fill="#595959" stroke="#595959" stroke-width="0.5"/>
<rect x="61.31" y="626.35" width="14.9" height="13.2" fill="#95a3c3" stroke="#595959" stroke-width="0.8"/>
<path d="M68.76 609.55V626.35M68.76 639.55V655.55M65.03 609.55H72.48M65.03 655.55H72.48M61.31 632.35H76.21" stroke="#595959" stroke-width="0.8" fill="none"/>
<path d="M68.76 601.8L69.91 603.75L68.76 605.7L67.61 603.75Z" fill="#595959" stroke="#595959" stroke-width="0.5"/>
<rect x="79.93" y="642.35" width="14.9" height="14" fill="#db96c0" stroke="#595959" stroke-width="0.8"/>
<path d="M87.38 622.35V642.35M87.38 656.35V664.35M83.66 622.35H91.1M83.66 664.35H91.1M79.93 650.35H94.83" stroke="#595959" stroke-width="0.8" fill="none"/>
<path d="M87.38 613.8L88.53 615.75L87.38 617.7L86.23 615.75Z" fill="#595959" stroke="#595959" stroke-width="0.5"/>
<rect x="98.55" y="632.35" width="14.9" height="15" fill="#a2c865" stroke="#595959" stroke-width="0.8"/>
<path d="M106 615.15V632.35M106 647.35V670.15M102.28 615.15H109.73M102.28 670.15H109.73M98.55 640.35H113.45" stroke="#595959" stroke-width="0.8" fill="none"/>
<path d="M106 679.8L107.15 681.75L106 683.7L104.85 681.75Z" fill="#595959" stroke="#595959" stroke-width="0.5"/>
<rect x="117.18" y="647.55" width="14.9" height="10" fill="#e5c849" stroke="#595959" stroke-width="0.8"/>
<path d="M124.62 641.35V647.55M124.62 657.55V671.35M120.9 641.35H128.35M120.9 671.35H128.35M117.18 654.35H132.07" stroke="#595959" stroke-width="0.8" fill="none"/>
<rect x="135.8" y="644.95" width="14.9" height="10.4" fill="#dbc29e" stroke="#595959" stroke-width="0.8"/>
<path d="M143.25 634.35V644.95M143.25 655.35V669.35M139.52 634.35H146.97M139.52 669.35H146.97M135.8 649.35H150.7" stroke="#595959" stroke-width="0.8" fill="none"/>
<path d="M143.25 686.2L144.4 688.15L143.25 690.1L142.1 688.15Z" fill="#595959" stroke="#595959" stroke-width="0.5"/>
<rect x="154.42" y="652.55" width="14.9" height="7.4" fill="#b3b3b3" stroke="#595959" stroke-width="0.8"/>
<path d="M161.87 642.35V652.55M161.87 659.95V670.35M158.15 642.35H165.59M158.15 670.35H165.59M154.42 656.35H169.32" stroke="#595959" stroke-width="0.8" fill="none"/>
<path d="M161.87 629L163.02 630.95L161.87 632.9L160.72 630.95Z" fill="#595959" stroke="#595959" stroke-width="0.5"/>
<rect x="173.04" y="654.35" width="14.9" height="10" fill="#72b6a1" stroke="#595959" stroke-width="0.8"/>
<path d="M180.49 641.55V654.35M180.49 664.35V673.35M176.77 641.55H184.22M176.77 673.35H184.22M173.04 658.35H187.94" stroke="#595959" stroke-width="0.8" fill="none"/>
<path d="M180.49 680.4L181.64 682.35L180.49 684.3L179.34 682.35Z" fill="#595959" stroke="#595959" stroke-width="0.5"/>
<rect x="191.67" y="660.55" width="14.9" height="23.4" fill="#e99675" stroke="#595959" stroke-width="0.8"/>
<path d="M199.12 650.55V660.55M199.12 683.95V697.35M195.39 650.55H202.84M195.39 697.35H202.84M191.67 669.35H206.56" stroke="#595959" stroke-width="0.8" fill="none"/>
<rect x="210.29" y="687.55" width="14.9" height="45" fill="#95a3c3" stroke="#595959" stroke-width="0.8"/>
<path d="M217.74 652.95V687.55M217.74 732.55V762.35M214.01 652.95H221.46M214.01 762.35H221.46M210.29 708.35H225.19" stroke="#595959" stroke-width="0.8" fill="none"/>
<path d="M22.2 596.05V770.3H227.05" stroke="#cccccc" stroke-width="0.65" fill="none"/>
<text x="18.4" y="619.2" text-anchor="end">0.75</text>
<text x="18.4" y="642.4" text-anchor="end">0.70</text>
<text x="18.4" y="665.5" text-anchor="end">0.65</text>
<text x="18.4" y="688.7" text-anchor="end">0.60</text>
<text x="18.4" y="711.9" text-anchor="end">0.55</text>
<text x="18.4" y="735.1" text-anchor="end">0.50</text>
<text x="18.4" y="758.3" text-anchor="end">0.45</text>
<text x="124.62" y="593.15" text-anchor="middle">Task = MSKCC LUAD KRAS</text>
<text transform="translate(3.62 683.17) rotate(-90)" text-anchor="middle">Validation AUC</text>
</g>
<g>
<path d="M251.17 604.95H456.02M251.17 624.55H456.02M251.17 644.05H456.02M251.17 663.65H456.02M251.17 683.15H456.02M251.17 702.65H456.02M251.17 722.15H456.02M251.17 741.75H456.02M251.17 761.35H456.02" stroke="#cccccc" stroke-width="0.5" fill="none"/>
<rect x="253.03" y="627.55" width="14.9" height="16.2" fill="#72b6a1" stroke="#595959" stroke-width="0.8"/>
<path d="M260.48 608.55V627.55M260.48 643.75V653.95M256.76 608.55H264.21M256.76 653.95H264.21M253.03 635.35H267.93" stroke="#595959" stroke-width="0.8" fill="none"/>
<rect x="271.65" y="632.55" width="14.9" height="12" fill="#e99675" stroke="#595959" stroke-width="0.8"/>
<path d="M279.1 616.95V632.55M279.1 644.55V661.55M275.38 616.95H282.83M275.38 661.55H282.83M271.65 636.35H286.55" stroke="#595959" stroke-width="0.8" fill="none"/>
<path d="M279.1 602L280.25 603.95L279.1 605.9L277.95 603.95Z" fill="#595959" stroke="#595959" stroke-width="0.5"/>
<rect x="290.28" y="637.75" width="14.9" height="18.6" fill="#95a3c3" stroke="#595959" stroke-width="0.8"/>
<path d="M297.73 626.95V637.75M297.73 656.35V676.35M294 626.95H301.45M294 676.35H301.45M290.28 647.35H305.18" stroke="#595959" stroke-width="0.8" fill="none"/>
<rect x="308.9" y="647.55" width="14.9" height="16" fill="#db96c0" stroke="#595959" stroke-width="0.8"/>
<path d="M316.35 626.35V647.55M316.35 663.55V678.35M312.62 626.35H320.07M312.62 678.35H320.07M308.9 650.35H323.8" stroke="#595959" stroke-width="0.8" fill="none"/>
<rect x="327.52" y="648.75" width="14.9" height="24.4" fill="#a2c865" stroke="#595959" stroke-width="0.8"/>
<path d="M334.97 623.35V648.75M334.97 673.15V691.95M331.25 623.35H338.7M331.25 691.95H338.7M327.52 659.75H342.42" stroke="#595959" stroke-width="0.8" fill="none"/>
<rect x="346.15" y="653.35" width="14.9" height="16.8" fill="#e5c849" stroke="#595959" stroke-width="0.8"/>
<path d="M353.59 642.35V653.35M353.59 670.15V691.95M349.87 642.35H357.32M349.87 691.95H357.32M346.15 658.35H361.04" stroke="#595959" stroke-width="0.8" fill="none"/>
<rect x="364.77" y="643.55" width="14.9" height="32" fill="#dbc29e" stroke="#595959" stroke-width="0.8"/>
<path d="M372.22 626.35V643.55M372.22 675.55V701.15M368.49 626.35H375.94M368.49 701.15H375.94M364.77 654.35H379.67" stroke="#595959" stroke-width="0.8" fill="none"/>
<rect x="383.39" y="643.55" width="14.9" height="26.8" fill="#b3b3b3" stroke="#595959" stroke-width="0.8"/>
<path d="M390.84 632.55V643.55M390.84 670.35V697.75M387.12 632.55H394.56M387.12 697.75H394.56M383.39 656.35H398.29" stroke="#595959" stroke-width="0.8" fill="none"/>
<rect x="402.01" y="650.55" width="14.9" height="35" fill="#72b6a1" stroke="#595959" stroke-width="0.8"/>
<path d="M409.46 625.35V650.55M409.46 685.55V706.15M405.74 625.35H413.19M405.74 706.15H413.19M402.01 672.55H416.91" stroke="#595959" stroke-width="0.8" fill="none"/>
<rect x="420.64" y="647.35" width="14.9" height="28" fill="#e99675" stroke="#595959" stroke-width="0.8"/>
<path d="M428.09 641.55V647.35M428.09 675.35V699.35M424.36 641.55H431.81M424.36 699.35H431.81M420.64 663.35H435.53" stroke="#595959" stroke-width="0.8" fill="none"/>
<rect x="439.26" y="705.35" width="14.9" height="30" fill="#95a3c3" stroke="#595959" stroke-width="0.8"/>
<path d="M446.71 672.15V705.35M446.71 735.35V762.35M442.98 672.15H450.43M442.98 762.35H450.43M439.26 720.35H454.16" stroke="#595959" stroke-width="0.8" fill="none"/>
<path d="M251.17 596.05V770.3H456.02" stroke="#cccccc" stroke-width="0.65" fill="none"/>
<text x="247.37" y="607" text-anchor="end">0.95</text>
<text x="247.37" y="626.6" text-anchor="end">0.90</text>
<text x="247.37" y="646.1" text-anchor="end">0.85</text>
<text x="247.37" y="665.7" text-anchor="end">0.80</text>
<text x="247.37" y="685.2" text-anchor="end">0.75</text>
<text x="247.37" y="704.7" text-anchor="end">0.70</text>
<text x="247.37" y="724.2" text-anchor="end">0.65</text>
<text x="247.37" y="743.8" text-anchor="end">0.60</text>
<text x="247.37" y="763.4" text-anchor="end">0.55</text>
<text x="353.59" y="593.15" text-anchor="middle">Task = MSKCC LUAD STK11</text>
<text transform="translate(259.94 777.32) rotate(-30)" text-anchor="end">h-optimus-0</text>
<text transform="translate(278.56 777.32) rotate(-30)" text-anchor="end">Prov-GigaPath</text>
<text transform="translate(297.18 777.32) rotate(-30)" text-anchor="end">UNI</text>
<text transform="translate(315.8 777.32) rotate(-30)" text-anchor="end">Phikon</text>
<text transform="translate(334.43 777.32) rotate(-30)" text-anchor="end">Virchow2</text>
<text transform="translate(353.05 777.32) rotate(-30)" text-anchor="end">Phikon-v2</text>
<text transform="translate(371.67 777.32) rotate(-30)" text-anchor="end">SP85M</text>
<text transform="translate(390.29 777.32) rotate(-30)" text-anchor="end">SP22M</text>
<text transform="translate(408.92 777.32) rotate(-30)" text-anchor="end">Virchow</text>
<text transform="translate(427.54 777.32) rotate(-30)" text-anchor="end">CTransPath</text>
<text transform="translate(446.16 777.32) rotate(-30)" text-anchor="end">tRes50</text>
<text x="353.59" y="802.8" text-anchor="middle">Encoder</text>
</g>
<g>
<path d="M480.14 613.35H684.99M480.14 646.55H684.99M480.14 679.85H684.99M480.14 713.15H684.99M480.14 746.35H684.99" stroke="#cccccc" stroke-width="0.5" fill="none"/>
<rect x="482" y="633.35" width="14.9" height="12.2" fill="#72b6a1" stroke="#595959" stroke-width="0.8"/>
<path d="M489.45 620.35V633.35M489.45 645.55V661.35M485.73 620.35H493.18M485.73 661.35H493.18M482 638.35H496.9" stroke="#595959" stroke-width="0.8" fill="none"/>
<path d="M489.45 601.8L490.6 603.75L489.45 605.7L488.3 603.75Z" fill="#595959" stroke="#595959" stroke-width="0.5"/>
<path d="M489.45 663.6L490.6 665.55L489.45 667.5L488.3 665.55Z" fill="#595959" stroke="#595959" stroke-width="0.5"/>
<rect x="500.62" y="632.35" width="14.9" height="19.6" fill="#e99675" stroke="#595959" stroke-width="0.8"/>
<path d="M508.07 619.35V632.35M508.07 651.95V678.35M504.35 619.35H511.8M504.35 678.35H511.8M500.62 638.35H515.52" stroke="#595959" stroke-width="0.8" fill="none"/>
<rect x="519.25" y="642.95" width="14.9" height="11.2" fill="#95a3c3" stroke="#595959" stroke-width="0.8"/>
<path d="M526.7 634.35V642.95M526.7 654.15V669.35M522.97 634.35H530.42M522.97 669.35H530.42M519.25 649.55H534.15" stroke="#595959" stroke-width="0.8" fill="none"/>
<path d="M526.7 614.4L527.85 616.35L526.7 618.3L525.55 616.35Z" fill="#595959" stroke="#595959" stroke-width="0.5"/>
<path d="M526.7 689L527.85 690.95L526.7 692.9L525.55 690.95Z" fill="#595959" stroke="#595959" stroke-width="0.5"/>
<rect x="537.87" y="644.35" width="14.9" height="16.2" fill="#db96c0" stroke="#595959" stroke-width="0.8"/>
<path d="M545.32 626.35V644.35M545.32 660.55V670.35M541.59 626.35H549.04M541.59 670.35H549.04M537.87 655.55H552.77" stroke="#595959" stroke-width="0.8" fill="none"/>
<path d="M545.32 687.2L546.47 689.15L545.32 691.1L544.17 689.15Z" fill="#595959" stroke="#595959" stroke-width="0.5"/>
<rect x="556.49" y="643.95" width="14.9" height="20.2" fill="#a2c865" stroke="#595959" stroke-width="0.8"/>
<path d="M563.94 620.55V643.95M563.94 664.15V689.55M560.22 620.55H567.67M560.22 689.55H567.67M556.49 651.75H571.39" stroke="#595959" stroke-width="0.8" fill="none"/>
<rect x="575.12" y="655.15" width="14.9" height="10.4" fill="#e5c849" stroke="#595959" stroke-width="0.8"/>
<path d="M582.56 647.55V655.15M582.56 665.55V677.35M578.84 647.55H586.29M578.84 677.35H586.29M575.12 659.35H590.01" stroke="#595959" stroke-width="0.8" fill="none"/>
<path d="M582.56 627.2L583.71 629.15L582.56 631.1L581.41 629.15Z" fill="#595959" stroke="#595959" stroke-width="0.5"/>
<path d="M582.56 632.8L583.71 634.75L582.56 636.7L581.41 634.75Z" fill="#595959" stroke="#595959" stroke-width="0.5"/>
<path d="M582.56 682.6L583.71 684.55L582.56 686.5L581.41 684.55Z" fill="#595959" stroke="#595959" stroke-width="0.5"/>
<rect x="593.74" y="659.55" width="14.9" height="18.8" fill="#dbc29e" stroke="#595959" stroke-width="0.8"/>
<path d="M601.19 634.35V659.55M601.19 678.35V696.35M597.46 634.35H604.91M597.46 696.35H604.91M593.74 667.75H608.64" stroke="#595959" stroke-width="0.8" fill="none"/>
<rect x="612.36" y="655.35" width="14.9" height="22.4" fill="#b3b3b3" stroke="#595959" stroke-width="0.8"/>
<path d="M619.81 641.15V655.35M619.81 677.75V697.55M616.09 641.15H623.53M616.09 697.55H623.53M612.36 664.35H627.26" stroke="#595959" stroke-width="0.8" fill="none"/>
<rect x="630.98" y="656.15" width="14.9" height="16.4" fill="#72b6a1" stroke="#595959" stroke-width="0.8"/>
<path d="M638.43 636.55V656.15M638.43 672.55V690.35M634.71 636.55H642.16M634.71 690.35H642.16M630.98 665.35H645.88" stroke="#595959" stroke-width="0.8" fill="none"/>
<rect x="649.61" y="660.55" width="14.9" height="17" fill="#e99675" stroke="#595959" stroke-width="0.8"/>
<path d="M657.06 637.55V660.55M657.06 677.55V687.35M653.33 637.55H660.78M653.33 687.35H660.78M649.61 666.35H664.5" stroke="#595959" stroke-width="0.8" fill="none"/>
<path d="M657.06 710.2L658.21 712.15L657.06 714.1L655.91 712.15Z" fill="#595959" stroke="#595959" stroke-width="0.5"/>
<rect x="668.23" y="690.15" width="14.9" height="21.2" fill="#95a3c3" stroke="#595959" stroke-width="0.8"/>
<path d="M675.68 678.15V690.15M675.68 711.35V736.75M671.95 678.15H679.4M671.95 736.75H679.4M668.23 704.35H683.13" stroke="#595959" stroke-width="0.8" fill="none"/>
<path d="M675.68 760.4L676.83 762.35L675.68 764.3L674.53 762.35Z" fill="#595959" stroke="#595959" stroke-width="0.5"/>
<path d="M480.14 596.05V770.3H684.99" stroke="#cccccc" stroke-width="0.65" fill="none"/>
<text x="476.34" y="615.4" text-anchor="end">0.9</text>
<text x="476.34" y="648.6" text-anchor="end">0.8</text>
<text x="476.34" y="681.9" text-anchor="end">0.7</text>
<text x="476.34" y="715.2" text-anchor="end">0.6</text>
<text x="476.34" y="748.4" text-anchor="end">0.5</text>
<text x="582.57" y="593.15" text-anchor="middle">Task = MSKCC LUAD ALK</text>
<text transform="translate(488.91 777.32) rotate(-30)" text-anchor="end">h-optimus-0</text>
<text transform="translate(507.53 777.32) rotate(-30)" text-anchor="end">Prov-GigaPath</text>
<text transform="translate(526.15 777.32) rotate(-30)" text-anchor="end">UNI</text>
<text transform="translate(544.77 777.32) rotate(-30)" text-anchor="end">Phikon</text>
<text transform="translate(563.4 777.32) rotate(-30)" text-anchor="end">Virchow2</text>
<text transform="translate(582.02 777.32) rotate(-30)" text-anchor="end">Phikon-v2</text>
<text transform="translate(600.64 777.32) rotate(-30)" text-anchor="end">SP85M</text>
<text transform="translate(619.26 777.32) rotate(-30)" text-anchor="end">SP22M</text>
<text transform="translate(637.89 777.32) rotate(-30)" text-anchor="end">Virchow</text>
<text transform="translate(656.51 777.32) rotate(-30)" text-anchor="end">CTransPath</text>
<text transform="translate(675.13 777.32) rotate(-30)" text-anchor="end">tRes50</text>
<text x="582.57" y="802.8" text-anchor="middle">Encoder</text>
</g>
<g>
<path d="M22.2 792.75H227.05M22.2 813.35H227.05M22.2 833.95H227.05M22.2 854.55H227.05M22.2 875.15H227.05M22.2 895.85H227.05M22.2 916.45H227.05M22.2 937.15H227.05M22.2 957.85H227.05" stroke="#cccccc" stroke-width="0.5" fill="none"/>
<rect x="24.06" y="846.55" width="14.9" height="30.2" fill="#72b6a1" stroke="#595959" stroke-width="0.8"/>
<path d="M31.51 805.35V846.55M31.51 876.75V902.15M27.79 805.35H35.24M27.79 902.15H35.24M24.06 851.35H38.96" stroke="#595959" stroke-width="0.8" fill="none"/>
<path d="M31.51 798.2L32.66 800.15L31.51 802.1L30.36 800.15Z" fill="#595959" stroke="#595959" stroke-width="0.5"/>
<rect x="42.68" y="848.95" width="14.9" height="41.4" fill="#e99675" stroke="#595959" stroke-width="0.8"/>
<path d="M50.13 822.55V848.95M50.13 890.35V902.75M46.41 822.55H53.86M46.41 902.75H53.86M42.68 877.35H57.58" stroke="#595959" stroke-width="0.8" fill="none"/>
<rect x="61.31" y="838.35" width="14.9" height="25.6" fill="#95a3c3" stroke="#595959" stroke-width="0.8"/>
<path d="M68.76 810.95V838.35M68.76 863.95V902.15M65.03 810.95H72.48M65.03 902.15H72.48M61.31 852.15H76.21" stroke="#595959" stroke-width="0.8" fill="none"/>
<rect x="79.93" y="858.55" width="14.9" height="20" fill="#db96c0" stroke="#595959" stroke-width="0.8"/>
<path d="M87.38 832.35V858.55M87.38 878.55V895.55M83.66 832.35H91.1M83.66 895.55H91.1M79.93 866.35H94.83" stroke="#595959" stroke-width="0.8" fill="none"/>
<path d="M87.38 810.4L88.53 812.35L87.38 814.3L86.23 812.35Z" fill="#595959" stroke="#595959" stroke-width="0.5"/>
<rect x="98.55" y="845.35" width="14.9" height="33" fill="#a2c865" stroke="#595959" stroke-width="0.8"/>
<path d="M106 823.75V845.35M106 878.35V919.15M102.28 823.75H109.73M102.28 919.15H109.73M98.55 861.55H113.45" stroke="#595959" stroke-width="0.8" fill="none"/>
<rect x="117.18" y="863.35" width="14.9" height="28" fill="#e5c849" stroke="#595959" stroke-width="0.8"/>
<path d="M124.62 822.55V863.35M124.62 891.35V917.15M120.9 822.55H128.35M120.9 917.15H128.35M117.18 880.35H132.07" stroke="#595959" stroke-width="0.8" fill="none"/>
<path d="M124.62 932.8L125.78 934.75L124.62 936.7L123.47 934.75Z" fill="#595959" stroke="#595959" stroke-width="0.5"/>
<path d="M124.62 934L125.78 935.95L124.62 937.9L123.47 935.95Z" fill="#595959" stroke="#595959" stroke-width="0.5"/>
<rect x="135.8" y="883.35" width="14.9" height="24.8" fill="#dbc29e" stroke="#595959" stroke-width="0.8"/>
<path d="M143.25 864.55V883.35M143.25 908.15V920.35M139.52 864.55H146.97M139.52 920.35H146.97M135.8 894.35H150.7" stroke="#595959" stroke-width="0.8" fill="none"/>
<rect x="154.42" y="868.35" width="14.9" height="29" fill="#b3b3b3" stroke="#595959" stroke-width="0.8"/>
<path d="M161.87 856.15V868.35M161.87 897.35V938.75M158.15 856.15H165.59M158.15 938.75H165.59M154.42 877.95H169.32" stroke="#595959" stroke-width="0.8" fill="none"/>
<rect x="173.04" y="872.55" width="14.9" height="24.8" fill="#72b6a1" stroke="#595959" stroke-width="0.8"/>
<path d="M180.49 846.55V872.55M180.49 897.35V925.15M176.77 846.55H184.22M176.77 925.15H184.22M173.04 887.35H187.94" stroke="#595959" stroke-width="0.8" fill="none"/>
<path d="M180.49 829L181.64 830.95L180.49 832.9L179.34 830.95Z" fill="#595959" stroke="#595959" stroke-width="0.5"/>
<rect x="191.67" y="865.55" width="14.9" height="11.8" fill="#e99675" stroke="#595959" stroke-width="0.8"/>
<path d="M199.12 850.55V865.55M199.12 877.35V885.15M195.39 850.55H202.84M195.39 885.15H202.84M191.67 871.35H206.56" stroke="#595959" stroke-width="0.8" fill="none"/>
<path d="M199.12 838L200.27 839.95L199.12 841.9L197.97 839.95Z" fill="#595959" stroke="#595959" stroke-width="0.5"/>
<path d="M199.12 841.6L200.27 843.55L199.12 845.5L197.97 843.55Z" fill="#595959" stroke="#595959" stroke-width="0.5"/>
<path d="M199.12 899.2L200.27 901.15L199.12 903.1L197.97 901.15Z" fill="#595959" stroke="#595959" stroke-width="0.5"/>
<path d="M199.12 911.2L200.27 913.15L199.12 915.1L197.97 913.15Z" fill="#595959" stroke="#595959" stroke-width="0.5"/>
<rect x="210.29" y="859.75" width="14.9" height="35.8" fill="#95a3c3" stroke="#595959" stroke-width="0.8"/>
<path d="M217.74 833.55V859.75M217.74 895.55V925.15M214.01 833.55H221.46M214.01 925.15H221.46M210.29 873.35H225.19" stroke="#595959" stroke-width="0.8" fill="none"/>
<path d="M217.74 956.4L218.89 958.35L217.74 960.3L216.59 958.35Z" fill="#595959" stroke="#595959" stroke-width="0.5"/>
<path d="M22.2 792.4V966.6H227.05" stroke="#cccccc" stroke-width="0.65" fill="none"/>
<text x="18.4" y="794.8" text-anchor="end">0.75</text>
<text x="18.4" y="815.4" text-anchor="end">0.70</text>
<text x="18.4" y="836" text-anchor="end">0.65</text>
<text x="18.4" y="856.6" text-anchor="end">0.60</text>
<text x="18.4" y="877.2" text-anchor="end">0.55</text>
<text x="18.4" y="897.9" text-anchor="end">0.50</text>
<text x="18.4" y="918.5" text-anchor="end">0.45</text>
<text x="18.4" y="939.2" text-anchor="end">0.40</text>
<text x="18.4" y="959.9" text-anchor="end">0.35</text>
<text x="124.62" y="789.5" text-anchor="middle">Task = MSKCC NSCLC IO</text>
<text transform="translate(3.62 879.5) rotate(-90)" text-anchor="middle">Validation AUC</text>
<text transform="translate(30.97 973.62) rotate(-30)" text-anchor="end">h-optimus-0</text>
<text transform="translate(49.59 973.62) rotate(-30)" text-anchor="end">Prov-GigaPath</text>
<text transform="translate(68.21 973.62) rotate(-30)" text-anchor="end">UNI</text>
<text transform="translate(86.83 973.62) rotate(-30)" text-anchor="end">Phikon</text>
<text transform="translate(105.46 973.62) rotate(-30)" text-anchor="end">Virchow2</text>
<text transform="translate(124.08 973.62) rotate(-30)" text-anchor="end">Phikon-v2</text>
<text transform="translate(142.7 973.62) rotate(-30)" text-anchor="end">SP85M</text>
<text transform="translate(161.32 973.62) rotate(-30)" text-anchor="end">SP22M</text>
<text transform="translate(179.95 973.62) rotate(-30)" text-anchor="end">Virchow</text>
<text transform="translate(198.57 973.62) rotate(-30)" text-anchor="end">CTransPath</text>
<text transform="translate(217.19 973.62) rotate(-30)" text-anchor="end">tRes50</text>
<text x="124.62" y="999.1" text-anchor="middle">Encoder</text>
</g>
</svg>
</body></html>
